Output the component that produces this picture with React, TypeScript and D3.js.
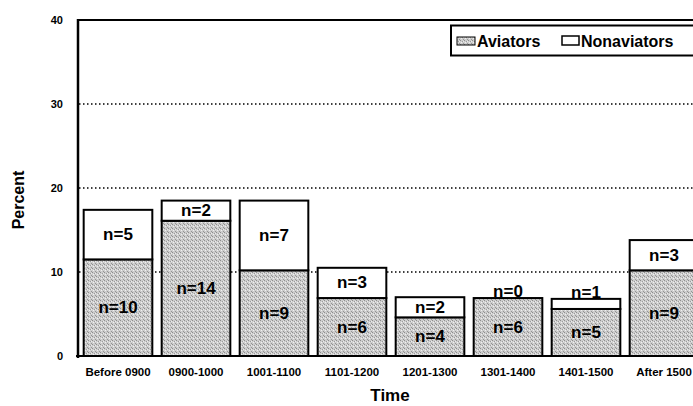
import * as d3 from "d3";

const categories = [
  "Before 0900",
  "0900-1000",
  "1001-1100",
  "1101-1200",
  "1201-1300",
  "1301-1400",
  "1401-1500",
  "After 1500",
];
// percent of each group
const aviators = [11.5, 16.1, 10.2, 6.9, 4.6, 6.9, 5.6, 10.2];
const nonaviators = [5.9, 2.4, 8.3, 3.6, 2.4, 0, 1.2, 3.6];
const aviatorsN = [10, 14, 9, 6, 4, 6, 5, 9];
const nonaviatorsN = [5, 2, 7, 3, 2, 0, 1, 3];
const yTicks = [0, 10, 20, 30, 40];
const gridTicks = [10, 20, 30];

const W = 693;
const H = 406;
const font = "'Liberation Sans', Arial, sans-serif";

export default function App() {
  const x = d3
    .scaleBand()
    .domain(categories)
    .range([79, 703])
    .paddingInner(0.12)
    .paddingOuter(0.06);
  const y = d3.scaleLinear().domain([0, 40]).range([356, 20]);

  const rows = categories.map((c, i) => ({
    cat: c,
    av: aviators[i],
    non: nonaviators[i],
    avN: aviatorsN[i],
    nonN: nonaviatorsN[i],
  }));

  return (
    <svg
      width={W}
      height={H}
      style={{ position: "absolute", left: 0, top: 0, background: "#fff" }}
      fontFamily={font}
    >
      <defs>
        <pattern id="stipple" width="4" height="4" patternUnits="userSpaceOnUse">
          <rect width="4" height="4" fill="#cdcdcd" />
          <rect x="0" y="0" width="1" height="1" fill="#8e8e8e" />
          <rect x="2" y="1" width="1" height="1" fill="#9c9c9c" />
          <rect x="1" y="2" width="1" height="1" fill="#f0f0f0" />
          <rect x="3" y="3" width="1" height="1" fill="#959595" />
          <rect x="3" y="1" width="1" height="1" fill="#ebebeb" />
        </pattern>
      </defs>

      {/* grid */}
      {gridTicks.map((t) => (
        <line
          key={t}
          x1={79}
          x2={W}
          y1={y(t)}
          y2={y(t)}
          stroke="#000"
          strokeWidth={1.3}
          strokeDasharray="1.5,2.5"
        />
      ))}
      <line x1={78} x2={W} y1={y(40)} y2={y(40)} stroke="#000" strokeWidth={2} />

      {/* bars */}
      {rows.map((d) => {
        const bx = x(d.cat)!;
        const bw = x.bandwidth();
        const cx = bx + bw / 2;
        const avTop = y(d.av);
        const top = y(d.av + d.non);
        const nonH = avTop - top;
        return (
          <g key={d.cat}>
            <rect
              x={bx}
              y={avTop}
              width={bw}
              height={y(0) - avTop}
              fill="url(#stipple)"
              stroke="#000"
              strokeWidth={2}
            />
            {nonH > 0 && (
              <rect
                x={bx}
                y={top}
                width={bw}
                height={nonH}
                fill="#fff"
                stroke="#000"
                strokeWidth={2}
              />
            )}
            <text
              x={cx}
              y={(avTop + y(0)) / 2}
              textAnchor="middle"
              dominantBaseline="central"
              fontSize={17}
              fontWeight="bold"
            >
              n={d.avN}
            </text>
            <text
              x={cx}
              y={nonH < 15 ? top - 1 : top + nonH / 2}
              textAnchor="middle"
              dominantBaseline={nonH < 15 ? "auto" : "central"}
              fontSize={17}
              fontWeight="bold"
            >
              n={d.nonN}
            </text>
          </g>
        );
      })}

      {/* axes */}
      <line x1={78} x2={78} y1={19} y2={358} stroke="#000" strokeWidth={2.5} />
      <line x1={76} x2={W} y1={y(0)} y2={y(0)} stroke="#000" strokeWidth={2} />

      {yTicks.map((t) => (
        <text
          key={t}
          x={63}
          y={y(t)}
          textAnchor="end"
          dominantBaseline="central"
          fontSize={11}
          fontWeight="bold"
        >
          {t}
        </text>
      ))}

      {categories.map((c) => (
        <text
          key={c}
          x={x(c)! + x.bandwidth() / 2}
          y={376}
          textAnchor="middle"
          fontSize={11.5}
          fontWeight="bold"
        >
          {c}
        </text>
      ))}

      <text
        transform={`translate(24,200) rotate(-90)`}
        textAnchor="middle"
        fontSize={16}
        fontWeight="bold"
      >
        Percent
      </text>
      <text x={390} y={401} textAnchor="middle" fontSize={17} fontWeight="bold">
        Time
      </text>

      {/* legend */}
      <rect
        x={451}
        y={25.5}
        width={260}
        height={30}
        fill="#fff"
        stroke="#000"
        strokeWidth={2}
      />
      <rect x={457} y={37} width={18} height={8} fill="url(#stipple)" stroke="#000" strokeWidth={1} />
      <text x={477} y={47} fontSize={16} fontWeight="bold">
        Aviators
      </text>
      <rect x={562} y={36} width={17} height={9} fill="#fff" stroke="#000" strokeWidth={1.5} />
      <text x={581} y={47} fontSize={16} fontWeight="bold">
        Nonaviators
      </text>
    </svg>
  );
}
